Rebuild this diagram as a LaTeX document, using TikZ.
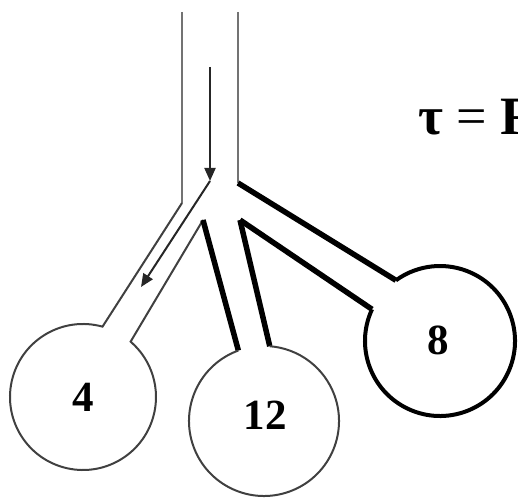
\documentclass[tikz,border=0pt]{standalone}
\usepackage{fontspec}
\setmainfont{Liberation Serif}
\usetikzlibrary{arrows.meta,calc}
\begin{document}
\begin{tikzpicture}[x=1pt,y=1pt,
  thinwall/.style={line width=2pt, draw=black!75, line join=miter},
  trunkwall/.style={line width=2.4pt, draw=black!55},
  thickwall/.style={line width=5.5pt, draw=black, line join=miter},
  thickcirc/.style={line width=4pt, draw=black},
  flowarrow/.style={line width=2pt, draw=black!85, -{Triangle[width=11pt,length=13pt]}},
  numlabel/.style={font=\fontsize{43}{43}\selectfont\bfseries, inner sep=0pt},
  eqlabel/.style={font=\fontsize{54}{54}\selectfont\bfseries, inner sep=0pt, anchor=base west}]
\useasboundingbox (0,0) rectangle (518,497);
% centres of the three bulbs
\coordinate (c4) at (83,100);
\coordinate (c12) at (264,76);
\coordinate (c8) at (440,156);
% trunk and junction points
\coordinate (tl) at (182,485);
\coordinate (tlb) at (182,294);
\coordinate (tr) at (238,485);
\coordinate (trb) at (238,314);
\coordinate (va) at (203,277);
\coordinate (vb) at (240,277);
% arrow points
\coordinate (a1) at (210,430);
\coordinate (a2) at (210,316);
\coordinate (a3) at (141,210);
% trunk right wall
\draw[trunkwall] (tr) -- (trb);
% trunk left wall + branch 4 + bulb 4
\draw[trunkwall] (tl) -- (tlb);
\draw[thinwall] (tlb) -- ($(c4)+(74.5:73)$) arc[start angle=74.5, end angle=409.3, radius=73] -- (va);
% branch 12
\draw[thickwall] (va) -- ($(c12)+(110:75)$);
\draw[thickwall] (vb) -- ($(c12)+(85.6:75)$);
\draw[thinwall] ($(c12)+(110:75)$) arc[start angle=110, end angle=445.6, radius=75];
% branch 8 + bulb 8
\draw[thickwall] (vb) -- ($(c8)+(155:75)$);
\draw[thickcirc] ($(c8)+(155:75)$) arc[start angle=155, end angle=486, radius=75];
\draw[thickwall] ($(c8)+(126:75)$) -- (trb);
% flow arrows
\draw[flowarrow] (a1) -- (a2);
\draw[flowarrow] (a2) -- (a3);
% labels
\node[numlabel] (n4) at (c4) {4};
\node[numlabel] (n12) at ($(c12)+(1,6)$) {12};
\node[numlabel] (n8) at ($(c8)+(-2,1)$) {8};
\node[eqlabel] (eq) at (418,362) {τ {\mdseries =} R};
\end{tikzpicture}
\end{document}
